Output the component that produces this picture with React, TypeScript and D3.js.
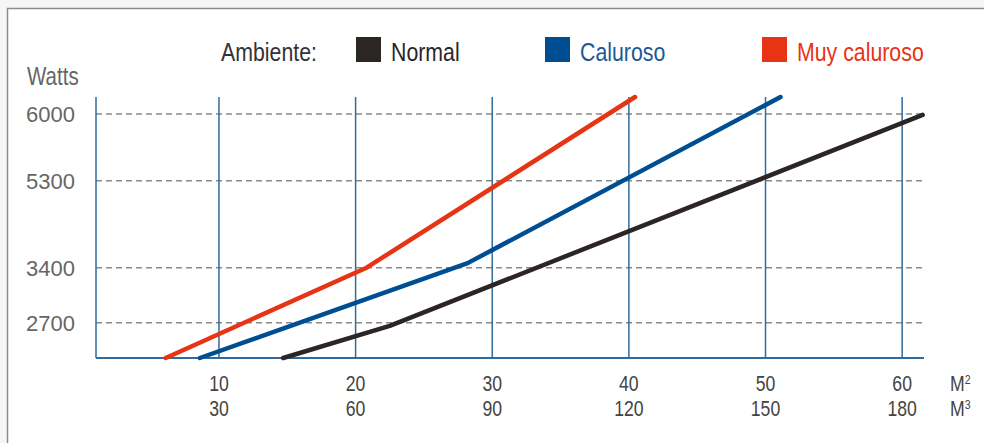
import React from "react";
import * as d3 from "d3";

const xTicksM2 = [10, 20, 30, 40, 50, 60];
const xTicksM3 = [30, 60, 90, 120, 150, 180];
const yTicks = [2700, 3400, 5300, 6000];

const seriesNames = ["Normal", "Caluroso", "Muy caluroso"];
const normalX = [14.7, 22.5, 61.5];
const normalY = [2250, 2660, 5990];
const calurosoX = [8.6, 28.2, 51.1];
const calurosoY = [2250, 3500, 6180];
const muyX = [6.1, 20.8, 40.45];
const muyY = [2250, 3400, 6180];

const W = 984;
const H = 443;
const regular = "'Liberation Sans', Arial, 'Roboto', sans-serif";
const SX = 0.82;

function CText(props: {
  x: number;
  y: number;
  size: number;
  fill: string;
  anchor?: string;
  children: React.ReactNode;
}) {
  return (
    <text
      transform={`translate(${props.x},${props.y}) scale(${SX},1)`}
      textAnchor={props.anchor || "start"}
      fontFamily={regular}
      fontSize={props.size}
      fill={props.fill}
    >
      {props.children}
    </text>
  );
}

export default function App() {
  const left = 96, right = 924, top = 97, bottom = 358;
  const x = d3.scaleLinear().domain([1, 61.6]).range([left, right]);
  const ph = bottom - top;
  // non-uniform value axis (as in the original): piecewise linear scale
  const y = d3
    .scaleLinear()
    .domain([2250, 2700, 3400, 5300, 6000, 6180])
    .range([0, 0.135, 0.346, 0.679, 0.935, 1].map((f) => bottom - f * ph));

  const colors = ["#2b2523", "#004e92", "#e63414"];
  const textColors = ["#2b2523", "#1b5896", "#e63414"];
  const data = [
    normalX.map((v, i) => [v, normalY[i]]),
    calurosoX.map((v, i) => [v, calurosoY[i]]),
    muyX.map((v, i) => [v, muyY[i]]),
  ];
  const line = d3
    .line<number[]>()
    .x((d) => x(d[0]))
    .y((d) => y(d[1]));

  const legendX = [356, 545, 762];
  const gridColor = "#2f6b9c";

  return (
    <svg
      width={W}
      height={H}
      style={{ position: "absolute", left: 0, top: 0, display: "block" }}
    >
      <rect x={0} y={0} width={W} height={H} fill="#f6f6f6" />
      <rect x={7.5} y={8.5} width={W + 20} height={H + 20} fill="#ffffff" stroke="#8c8c8c" strokeWidth={1.5} />

      {/* legend */}
      <CText x={221} y={61} size={26} fill="#333">
        Ambiente:
      </CText>
      {seriesNames.map((n, i) => (
        <g key={n}>
          <rect x={legendX[i]} y={37} width={25} height={25} fill={colors[i]} />
          <CText x={legendX[i] + 35} y={61} size={26} fill={textColors[i]}>
            {n}
          </CText>
        </g>
      ))}

      <CText x={27} y={85} size={25} fill="#666">
        Watts
      </CText>

      {/* dashed horizontal lines */}
      {yTicks.map((t) => (
        <g key={t}>
          <line x1={left} x2={right} y1={y(t)} y2={y(t)} stroke="#8a8a8a" strokeWidth={1.5} strokeDasharray="6,4" />
          <text x={75} y={y(t) + 8} textAnchor="end" fontFamily={regular} fontSize={22} fill="#666">
            {t}
          </text>
        </g>
      ))}

      {/* vertical gridlines */}
      {xTicksM2.map((t, i) => (
        <g key={t}>
          <line x1={x(t)} x2={x(t)} y1={top} y2={bottom} stroke={gridColor} strokeWidth={1.5} />
          <CText x={x(t)} y={391} anchor="middle" size={21.5} fill="#444">
            {t}
          </CText>
          <CText x={x(t)} y={416} anchor="middle" size={21.5} fill="#444">
            {xTicksM3[i]}
          </CText>
        </g>
      ))}
      <CText x={950} y={391} size={21.5} fill="#444">
        M<tspan fontSize={13} dy={-7}>2</tspan>
      </CText>
      <CText x={950} y={416} size={21.5} fill="#444">
        M<tspan fontSize={13} dy={-7}>3</tspan>
      </CText>

      {/* axes */}
      <line x1={left} x2={left} y1={top} y2={bottom} stroke={gridColor} strokeWidth={1.5} />
      <line x1={left} x2={right} y1={bottom} y2={bottom} stroke={gridColor} strokeWidth={2} />

      {/* series */}
      {data.map((d, i) => (
        <path
          key={i}
          d={line(d) || ""}
          fill="none"
          stroke={colors[i]}
          strokeWidth={4.5}
          strokeLinecap="round"
          strokeLinejoin="round"
        />
      ))}
    </svg>
  );
}
